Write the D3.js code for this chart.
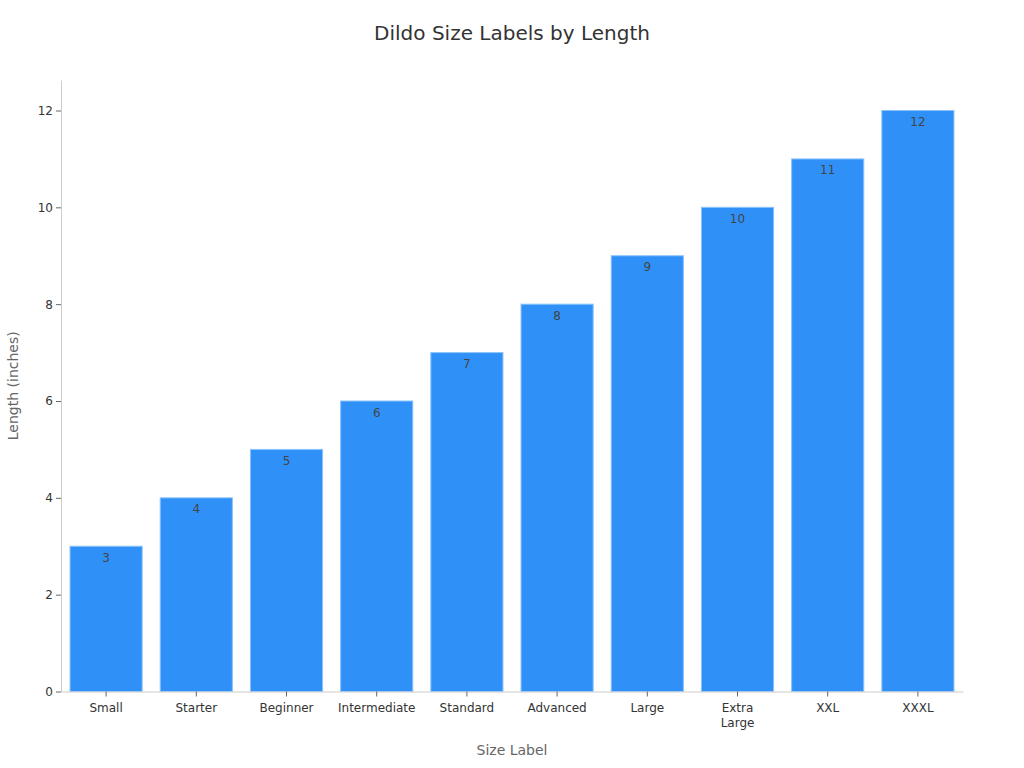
<!DOCTYPE html>
<html>
<head>
<meta charset="utf-8">
<script src="https://cdn.jsdelivr.net/npm/d3@7"></script>
<style>
  body { margin: 0; background: #fff; }
  svg, svg text { font-family: "DejaVu Sans", sans-serif; }
</style>
</head>
<body>
<svg id="chart" width="1024" height="768"></svg>
<script>
// Data
const sizeLabels = ["Small", "Starter", "Beginner", "Intermediate", "Standard", "Advanced", "Large", "Extra Large", "XXL", "XXXL"];
const lengths = [3, 4, 5, 6, 7, 8, 9, 10, 11, 12];
const yTicks = [0, 2, 4, 6, 8, 10, 12];

const svg = d3.select("svg#chart");
const width = +svg.attr("width");
const height = +svg.attr("height");
const margin = { top: 80, right: 61, bottom: 76.5, left: 61 };

const x = d3.scaleBand()
  .domain(sizeLabels)
  .range([margin.left, width - margin.right])
  .paddingInner(0.2)
  .paddingOuter(0.1);

const y = d3.scaleLinear()
  .domain([0, 12.63])
  .range([height - margin.bottom, margin.top]);

// Title
svg.append("text")
  .attr("x", width / 2)
  .attr("y", 40)
  .attr("text-anchor", "middle")
  .style("font-size", "20px")
  .style("fill", "#333")
  .text("Dildo Size Labels by Length");

// Bars
svg.selectAll("rect.bar")
  .data(sizeLabels)
  .join("rect")
    .attr("class", "bar")
    .attr("x", d => x(d))
    .attr("y", (d, i) => y(lengths[i]))
    .attr("width", x.bandwidth())
    .attr("height", (d, i) => y(0) - y(lengths[i]))
    .style("fill", "#2f91f8")
    .style("stroke", "#8cc3fb")
    .style("stroke-width", 1);

// Value labels
svg.selectAll("text.value")
  .data(sizeLabels)
  .join("text")
    .attr("class", "value")
    .attr("x", d => x(d) + x.bandwidth() / 2)
    .attr("y", (d, i) => y(lengths[i]) + 15.5)
    .attr("text-anchor", "middle")
    .style("font-size", "12px")
    .style("fill", "#444")
    .text((d, i) => lengths[i]);

// X axis
const xAxis = svg.append("g")
  .attr("transform", "translate(0," + y(0) + ")")
  .call(d3.axisBottom(x).tickSize(5).tickSizeOuter(0));
xAxis.select(".domain").style("stroke", "#ccc");
xAxis.selectAll(".tick line").style("stroke", "#666");
xAxis.selectAll(".tick text")
  .style("font-size", "12px")
  .style("fill", "#333")
  .attr("dy", "1.0em")
  .each(function(d) {
    const words = d.split(" ");
    if (words.length > 1) {
      const t = d3.select(this).text(null);
      words.forEach((w, i) => {
        t.append("tspan")
          .attr("x", 0)
          .attr("dy", i == 0 ? "1.0em" : "1.3em")
          .text(w);
      });
      t.attr("dy", null);
    }
  });

// Y axis
const yAxis = svg.append("g")
  .attr("transform", "translate(" + margin.left + ",0)")
  .call(d3.axisLeft(y).tickValues(yTicks).tickSize(5).tickSizeOuter(0));
yAxis.select(".domain").style("stroke", "#ccc");
yAxis.selectAll(".tick line").style("stroke", "#666");
yAxis.selectAll(".tick text")
  .style("font-size", "12px")
  .style("fill", "#333");

// Axis titles
svg.append("text")
  .attr("x", (margin.left + width - margin.right) / 2)
  .attr("y", 755)
  .attr("text-anchor", "middle")
  .style("font-size", "14px")
  .style("fill", "#666")
  .text("Size Label");

svg.append("text")
  .attr("transform", "translate(18," + (margin.top + height - margin.bottom) / 2 + ") rotate(-90)")
  .attr("text-anchor", "middle")
  .style("font-size", "14px")
  .style("fill", "#666")
  .text("Length (inches)");
</script>
</body>
</html>
